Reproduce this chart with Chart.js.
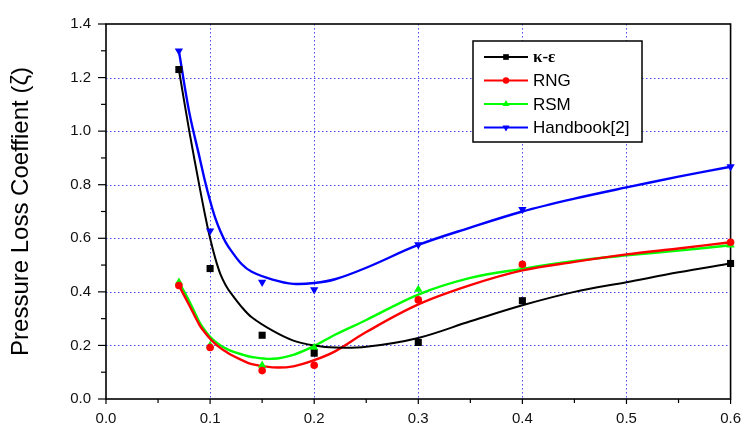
<!DOCTYPE html>
<html>
<head>
<meta charset="utf-8">
<script src="https://cdn.jsdelivr.net/npm/chart.js@4.4.1/dist/chart.umd.min.js"></script>
<style>
    html, body { margin: 0; padding: 0; background: #fff; }
    #lossChart { display: block; }
</style>
</head>
<body>
<canvas id="lossChart" width="752" height="434"></canvas>
<script>
/* ============================================
   PRESSURE LOSS COEFFICIENT CHART
============================================ */

/* =========================
   DATA
========================= */

// measured / computed points
const pointX = [0.07, 0.1, 0.15, 0.2, 0.3, 0.4, 0.6];

const kePoints       = [1.23, 0.487, 0.238, 0.171, 0.211, 0.367, 0.506];
const rngPoints      = [0.424, 0.192, 0.106, 0.126, 0.370, 0.503, 0.585];
const rsmPoints      = [0.436, 0.200, 0.126, 0.192, 0.409, 0.500, 0.575];
const handbookPoints = [1.30, 0.628, 0.436, 0.408, 0.576, 0.708, 0.867];

// fitted curves
const curveX = [0.07, 0.08, 0.09, 0.095, 0.1, 0.105, 0.11, 0.115, 0.12, 0.13, 0.14, 0.16, 0.18, 0.2, 0.22, 0.25, 0.3, 0.35, 0.4, 0.45, 0.5, 0.55, 0.6];

const keCurve       = [1.23, 1.0, 0.79, 0.69, 0.60, 0.525, 0.465, 0.425, 0.395, 0.345, 0.305, 0.255, 0.218, 0.2, 0.192, 0.195, 0.228, 0.29, 0.35, 0.40, 0.436, 0.473, 0.506];
const rngCurve      = [0.424, 0.35, 0.275, 0.248, 0.225, 0.206, 0.19, 0.177, 0.165, 0.146, 0.13, 0.118, 0.122, 0.145, 0.178, 0.25, 0.353, 0.425, 0.48, 0.512, 0.54, 0.562, 0.585];
const rsmCurve      = [0.436, 0.365, 0.285, 0.256, 0.232, 0.214, 0.20, 0.189, 0.18, 0.167, 0.157, 0.15, 0.165, 0.198, 0.24, 0.295, 0.39, 0.452, 0.486, 0.515, 0.536, 0.554, 0.574];
const handbookCurve = [1.30, 1.07, 0.90, 0.815, 0.74, 0.675, 0.625, 0.585, 0.555, 0.505, 0.475, 0.446, 0.43, 0.433, 0.447, 0.49, 0.575, 0.64, 0.70, 0.748, 0.79, 0.83, 0.867];

const seriesNames  = ['κ-ε', 'RNG', 'RSM', 'Handbook[2]'];
const seriesColors = ['#000000', '#ff0000', '#00ff00', '#0000ff'];

const xTickLabels = ['0.0', '0.1', '0.2', '0.3', '0.4', '0.5', '0.6'];
const yTickLabels = ['0.0', '0.2', '0.4', '0.6', '0.8', '1.0', '1.2', '1.4'];

const yTitle = 'Pressure Loss Coeffient (ζ)';

/* =========================
   HELPERS
========================= */

const FONT = '"Liberation Sans", Arial, sans-serif';
const GRID_COLOR = 'rgba(40,40,255,0.85)';

function toXY(xs, ys){
    return xs.map(function(x, i){ return { x: x, y: ys[i] }; });
}

function isMajorX(v){
    return Math.round(v * 20) % 2 === 0;
}

function isMajorY(v){
    return Math.round(v * 10) % 2 === 0;
}

const markers = [
    { style: 'rect',     rotation: 0,   radius: 5,   legendRadius: 4 },
    { style: 'circle',   rotation: 0,   radius: 3.8, legendRadius: 3.2 },
    { style: 'triangle', rotation: 0,   radius: 4.8, legendRadius: 4 },
    { style: 'triangle', rotation: 180, radius: 4.8, legendRadius: 4 }
];

const lineWidths = [2, 2.4, 2.4, 2.4];

const pointSets = [kePoints, rngPoints, rsmPoints, handbookPoints];
const curveSets = [keCurve, rngCurve, rsmCurve, handbookCurve];

const datasets = [];

curveSets.forEach(function(curve, i){
    datasets.push({
        label: seriesNames[i] + ' fit',
        data: toXY(curveX, curve),
        showLine: true,
        borderColor: seriesColors[i],
        borderWidth: lineWidths[i],
        pointRadius: 0,
        tension: 0.35,
        fill: false,
        order: 2
    });
});

pointSets.forEach(function(pts, i){
    datasets.push({
        label: seriesNames[i],
        data: toXY(pointX, pts),
        showLine: false,
        pointStyle: markers[i].style,
        rotation: markers[i].rotation,
        pointRadius: markers[i].radius,
        backgroundColor: seriesColors[i],
        borderColor: seriesColors[i],
        borderWidth: 0,
        clip: false,
        order: 1
    });
});

/* =========================
   GRID, FRAME, TICKS
========================= */

const framePlugin = {
    id: 'framePlugin',

    beforeDatasetsDraw: function(chart){
        const ctx = chart.ctx;
        const a = chart.chartArea;
        const xs = chart.scales.x;
        const ys = chart.scales.y;

        ctx.save();
        ctx.strokeStyle = GRID_COLOR;
        ctx.lineWidth = 1;
        ctx.setLineDash([1.5, 2.5]);

        xs.ticks.forEach(function(t){
            if (!isMajorX(t.value) || t.value <= xs.min || t.value >= xs.max) return;
            const px = Math.round(xs.getPixelForValue(t.value)) + 0.5;
            ctx.beginPath();
            ctx.moveTo(px, a.top);
            ctx.lineTo(px, a.bottom);
            ctx.stroke();
        });

        ys.ticks.forEach(function(t){
            if (!isMajorY(t.value) || t.value <= ys.min || t.value >= ys.max) return;
            const py = Math.round(ys.getPixelForValue(t.value)) + 0.5;
            ctx.beginPath();
            ctx.moveTo(a.left, py);
            ctx.lineTo(a.right, py);
            ctx.stroke();
        });

        ctx.setLineDash([]);

        // frame
        ctx.strokeStyle = '#000';
        ctx.lineWidth = 1.6;
        ctx.strokeRect(a.left, a.top, a.right - a.left, a.bottom - a.top);

        // tick marks
        ctx.lineWidth = 1.2;

        xs.ticks.forEach(function(t){
            const px = xs.getPixelForValue(t.value);
            const len = isMajorX(t.value) ? 5 : 4;
            ctx.beginPath();
            ctx.moveTo(px, a.bottom);
            ctx.lineTo(px, a.bottom + len);
            ctx.stroke();
        });

        ys.ticks.forEach(function(t){
            const py = ys.getPixelForValue(t.value);
            const len = isMajorY(t.value) ? 8 : 5;
            ctx.beginPath();
            ctx.moveTo(a.left, py);
            ctx.lineTo(a.left - len, py);
            ctx.stroke();
        });

        ctx.restore();
    }
};

/* =========================
   LEGEND
========================= */

const legendPlugin = {
    id: 'legendPlugin',

    afterDraw: function(chart){
        const ctx = chart.ctx;
        const box = { left: 473, top: 41, width: 169, height: 101 };
        const rowTop = 57;
        const rowGap = 23.5;

        ctx.save();
        ctx.fillStyle = '#fff';
        ctx.fillRect(box.left, box.top, box.width, box.height);
        ctx.strokeStyle = '#000';
        ctx.lineWidth = 1.5;
        ctx.strokeRect(box.left, box.top, box.width, box.height);

        seriesNames.forEach(function(name, i){
            const y = rowTop + i * rowGap;

            ctx.strokeStyle = seriesColors[i];
            ctx.lineWidth = 2;
            ctx.beginPath();
            ctx.moveTo(484, y);
            ctx.lineTo(528, y);
            ctx.stroke();

            ctx.fillStyle = seriesColors[i];
            Chart.helpers.drawPoint(ctx, {
                pointStyle: markers[i].style,
                rotation: markers[i].rotation,
                radius: markers[i].legendRadius,
                borderWidth: 0
            }, 506, y);

            ctx.fillStyle = '#000';
            ctx.textBaseline = 'middle';
            ctx.textAlign = 'left';
            ctx.font = i === 0 ? 'bold 17px "Liberation Serif", serif' : '17px ' + FONT;
            ctx.fillText(name, 533, y + 1);
        });

        ctx.restore();
    }
};

/* =========================
   CHART
========================= */

new Chart(document.getElementById('lossChart'), {
    type: 'scatter',

    data: {
        datasets: datasets
    },

    options: {
        responsive: false,
        animation: false,
        events: [],

        layout: {
            padding: { left: 0, top: 17, right: 15, bottom: 0 }
        },

        plugins: {
            legend: { display: false },
            tooltip: { enabled: false }
        },

        scales: {
            x: {
                type: 'linear',
                min: 0,
                max: 0.6,
                grid: { display: false, drawTicks: false },
                border: { display: false },
                afterFit: function(scale){ scale.height = 35; },
                afterBuildTicks: function(scale){
                    const t = [];
                    for (let i = 0; i <= 12; i++) t.push({ value: i * 0.05 });
                    scale.ticks = t;
                },
                ticks: {
                    padding: 11,
                    color: '#111',
                    font: { family: FONT, size: 15 },
                    maxRotation: 0,
                    autoSkip: false,
                    callback: function(value){
                        if (!isMajorX(value)) return '';
                        return xTickLabels[Math.round(value * 10)];
                    }
                }
            },

            y: {
                type: 'linear',
                min: 0,
                max: 1.4,
                grid: { display: false, drawTicks: false },
                border: { display: false },
                afterFit: function(scale){ scale.width = 106; },
                afterBuildTicks: function(scale){
                    const t = [];
                    for (let i = 0; i <= 14; i++) t.push({ value: i * 0.1 });
                    scale.ticks = t;
                },
                ticks: {
                    padding: 15,
                    color: '#111',
                    font: { family: FONT, size: 15 },
                    autoSkip: false,
                    callback: function(value){
                        if (!isMajorY(value)) return '';
                        return yTickLabels[Math.round(value * 5)];
                    }
                },
                title: {
                    display: true,
                    text: yTitle,
                    color: '#000',
                    font: { family: FONT, size: 24 },
                    padding: { top: 7, bottom: 0 }
                }
            }
        }
    },

    plugins: [framePlugin, legendPlugin]
});
</script>
</body>
</html>
